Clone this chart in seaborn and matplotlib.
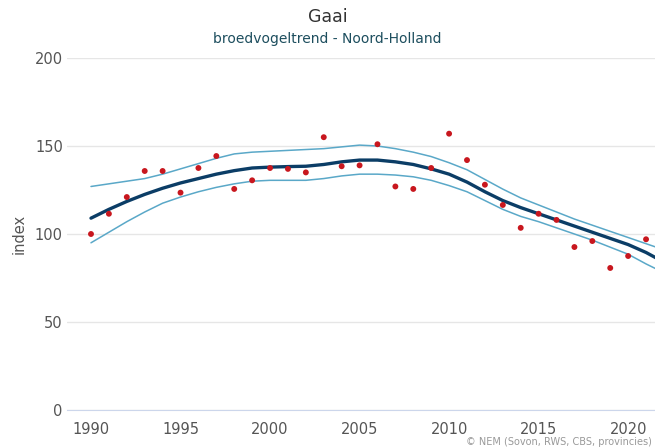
import pandas as pd
import seaborn as sns
import matplotlib.pyplot as plt

# Yearly index values
years = list(range(1990, 2022))
index_points = [100, 111.5, 121, 135.8, 135.8, 123.5, 137.5, 144.3, 125.6, 130.5,
                137.5, 137, 135, 155, 138.5, 139, 151, 127, 125.6, 137.5,
                157, 142, 128, 116.5, 103.5, 111.5, 108, 92.6, 96, 80.7,
                87.5, 97]

trend_years = list(range(1990, 2023))
trend = [109, 114, 118.5, 122.5, 126, 129, 131.5, 134, 136, 137.5,
         138, 138.3, 138.5, 139.5, 141, 142, 142, 141, 139.5, 137,
         134, 129.5, 124, 119, 115, 111.5, 108, 104.5, 101, 97.5,
         94, 89.5, 84]
upper = [127, 128.5, 130, 131.5, 134, 137, 140, 143, 145.5, 146.5,
         147, 147.5, 148, 148.5, 149.5, 150.5, 150, 148.5, 146.5, 144,
         140.5, 136.5, 131, 125.5, 120.5, 116.5, 112.5, 108.5, 105, 101.5,
         98, 94.5, 91]
lower = [95, 101, 107, 112.5, 117.5, 121, 124, 126.5, 128.5, 130,
         130.5, 130.5, 130.5, 131.5, 133, 134, 134, 133.5, 132.5, 130.5,
         127.5, 124, 119, 114, 110, 107, 103.5, 100, 96.5, 92.5,
         88.5, 83, 78]

points = pd.DataFrame({'jaar': years, 'index': index_points})
lines = pd.DataFrame({'jaar': trend_years, 'trend': trend, 'upper': upper, 'lower': lower})

sns.set_style('white')
plt.rcParams['font.family'] = ['DejaVu Sans']

fig = plt.figure(figsize=(6.55, 4.48), dpi=100)
ax = fig.add_axes([67 / 655, 38 / 448, 1 - 67 / 655, 352 / 448])

band_color = '#5aa8c8'
sns.lineplot(data=lines, x='jaar', y='upper', ax=ax, color=band_color, lw=1.1)
sns.lineplot(data=lines, x='jaar', y='lower', ax=ax, color=band_color, lw=1.1)
sns.lineplot(data=lines, x='jaar', y='trend', ax=ax, color='#0b3d66', lw=2.4)
sns.scatterplot(data=points, x='jaar', y='index', ax=ax, color='#c8171e',
                s=18, edgecolor='none', zorder=5)

ax.set_xlim(1988.66, 2021.5)
ax.set_ylim(0, 200)
ax.set_yticks([0, 50, 100, 150, 200])
ax.set_xticks([1990, 1995, 2000, 2005, 2010, 2015, 2020])
ax.yaxis.grid(True, color='#e6e6e6', lw=1)
ax.xaxis.grid(False)
for s in ['top', 'right', 'left']:
    ax.spines[s].set_visible(False)
ax.spines['bottom'].set_color('#ccd6eb')
ax.tick_params(axis='x', colors='#ccd6eb', length=7, width=1, direction='out',
               labelcolor='#555555', labelsize=10.5, pad=1.5)
ax.tick_params(axis='y', length=0, labelcolor='#555555', labelsize=10.5, pad=3)
ax.set_xlabel('')
ax.set_ylabel('index', color='#555555', fontsize=10.5, labelpad=6)

fig.text(0.5, 1 - 17 / 448, 'Gaai', ha='center', va='center', fontsize=12.5, color='#333333')
fig.text(0.5, 1 - 39 / 448, 'broedvogeltrend - Noord-Holland', ha='center', va='center',
         fontsize=10, color='#1d4e5e')
fig.text(652 / 655, 1 / 448, '© NEM (Sovon, RWS, CBS, provincies)', ha='right',
         va='bottom', fontsize=7, color='#999999')

fig.savefig('out.png', dpi=100)
